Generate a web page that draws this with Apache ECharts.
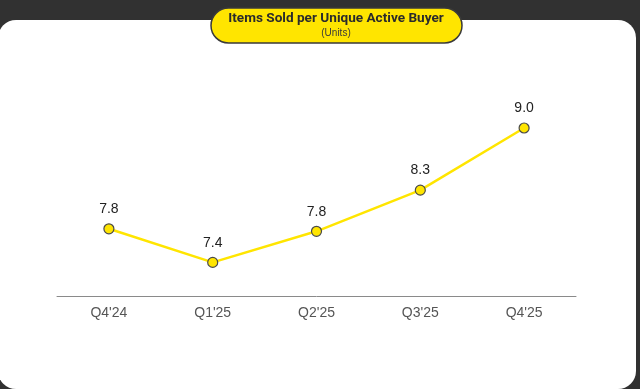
<!DOCTYPE html>
<html>
<head>
<meta charset="utf-8">
<style>html,body{margin:0;padding:0;background:#313131;}#c{width:640px;height:389px;}</style>
<script src="https://cdn.jsdelivr.net/npm/echarts@6/dist/echarts.min.js"></script>
</head>
<body>
<div id="c"></div>
<script>
const categories = ["Q4'24", "Q1'25", "Q2'25", "Q3'25", "Q4'25"];
const values = [7.8, 7.4, 7.77, 8.26, 9.0];
const titleText = 'Items Sold per Unique Active Buyer';
const subtitleText = '(Units)';

const chart = echarts.init(document.getElementById('c'), null, {renderer: 'canvas'});
chart.setOption({
  backgroundColor: '#313131',
  animation: false,
  graphic: [
    {type: 'rect', z: -10, shape: {x: -2, y: 20, width: 638, height: 369, r: 18}, style: {fill: '#ffffff'}, silent: true},
    {type: 'rect', z: 10, shape: {x: 211, y: 8, width: 251, height: 35, r: 17.5}, style: {fill: '#FFE500', stroke: '#3a3a3a', lineWidth: 1.5}},
    {type: 'text', z: 11, x: 336, y: 19, style: {text: titleText, fill: '#2b2b2b', font: 'bold 13.6px Roboto', align: 'center', verticalAlign: 'middle'}},
    {type: 'text', z: 11, x: 336, y: 33, style: {text: subtitleText, fill: '#3a3a3a', font: '10px "Liberation Sans"', align: 'center', verticalAlign: 'middle'}}
  ],
  grid: {left: 57, right: 64, top: 44, bottom: 93, containLabel: false},
  xAxis: {
    type: 'category',
    data: categories,
    boundaryGap: true,
    axisLine: {lineStyle: {color: '#8a8a8a', width: 1}},
    axisTick: {show: false},
    axisLabel: {color: '#555555', fontSize: 14, fontFamily: '"Liberation Sans", Arial', margin: 10}
  },
  yAxis: {
    type: 'value', min: 7, max: 10,
    show: false,
    splitLine: {show: false}
  },
  series: [{
    type: 'line',
    data: values,
    lineStyle: {color: '#FFE500', width: 2.5},
    symbol: 'circle',
    symbolSize: 10,
    itemStyle: {color: '#FFE500', borderColor: '#4a4a4a', borderWidth: 1.2},
    label: {
      show: true, position: 'top', distance: 7,
      color: '#222222', fontSize: 14, fontFamily: '"Liberation Sans", Arial',
      formatter: p => p.value.toFixed(1)
    }
  }]
});
</script>
</body>
</html>
